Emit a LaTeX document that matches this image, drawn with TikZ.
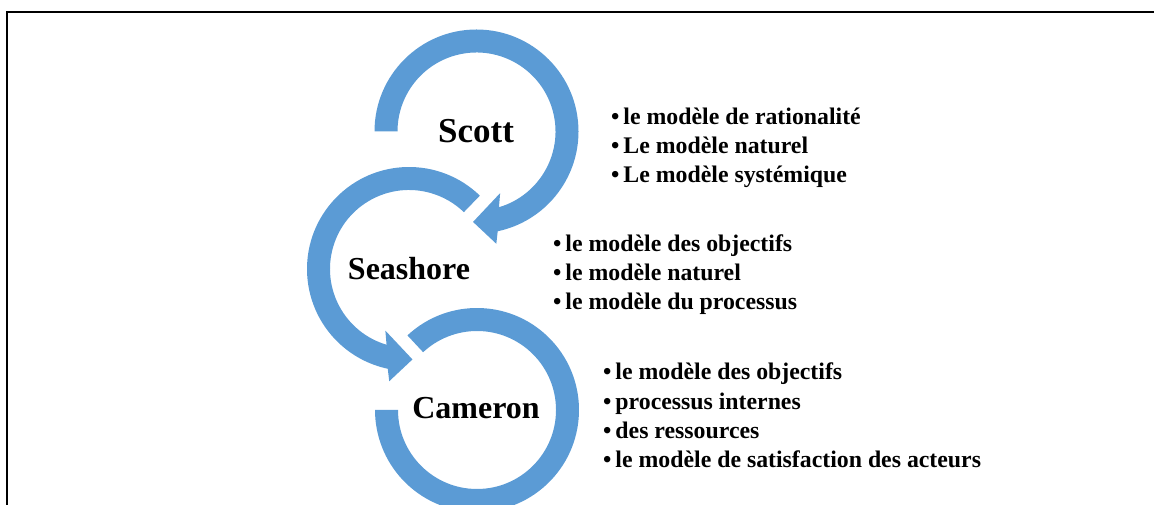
\documentclass[tikz,border=0pt]{standalone}
\usepackage{fontspec}
\setmainfont{Liberation Serif}
\definecolor{arcblue}{HTML}{5B9BD5}
\begin{document}
\begin{tikzpicture}[x=1pt,y=1pt,
  ring/.style={fill=arcblue, draw=none},
  title/.style={anchor=base, inner sep=0pt, font=\fontsize{#1}{#1}\selectfont\bfseries},
  list/.style={anchor=base west, inner sep=0pt, font=\fontsize{23.8}{29.2}\selectfont\bfseries}]
\useasboundingbox (0,0) rectangle (1154,505);
\draw[line width=2pt] (7,0) -- (7,493) -- (1154,493);
% Scott ring with arrow head
\fill[ring, shift={(476.5,373.5)}] (180:102) arc[start angle=180,end angle=-78,radius=102]
  -- (-80:114) -- (-92.2:90.5) -- (-69:66) -- (-73.5:79)
  arc[start angle=-73.5,end angle=180,radius=79] -- cycle;
% Seashore ring with arrow head
\fill[ring, shift={(409,236)}] (46:102) arc[start angle=46,end angle=258,radius=102]
  -- (260:114) -- (272.2:90.5) -- (249:66) -- (253.5:79)
  arc[start angle=253.5,end angle=46,radius=79] -- cycle;
% Cameron ring
\fill[ring, shift={(477,95)}] (133:102) arc[start angle=133,end angle=-180,radius=102]
  -- (-180:79) arc[start angle=-180,end angle=133,radius=79] -- cycle;
\node[title=35] (scott) at (476,362) {Scott};
\node[title=32] (seashore) at (409,225) {Seashore};
\node[title=32] (cameron) at (476,86) {Cameron};
\node[list] (ls) at (611,380.5) {\begin{tabular}[t]{@{}l@{}}•\,le modèle de rationalité\\ •\,Le modèle naturel\\ •\,Le modèle systémique\end{tabular}};
\node[list] (lh) at (553,253.5) {\begin{tabular}[t]{@{}l@{}}•\,le modèle des objectifs\\ •\,le modèle naturel\\ •\,le modèle du processus\end{tabular}};
\node[list] (lc) at (603,125) {\begin{tabular}[t]{@{}l@{}}•\,le modèle des objectifs\\ •\,processus internes\\ •\,des ressources\\ •\,le modèle de satisfaction des acteurs\end{tabular}};
\end{tikzpicture}
\end{document}
